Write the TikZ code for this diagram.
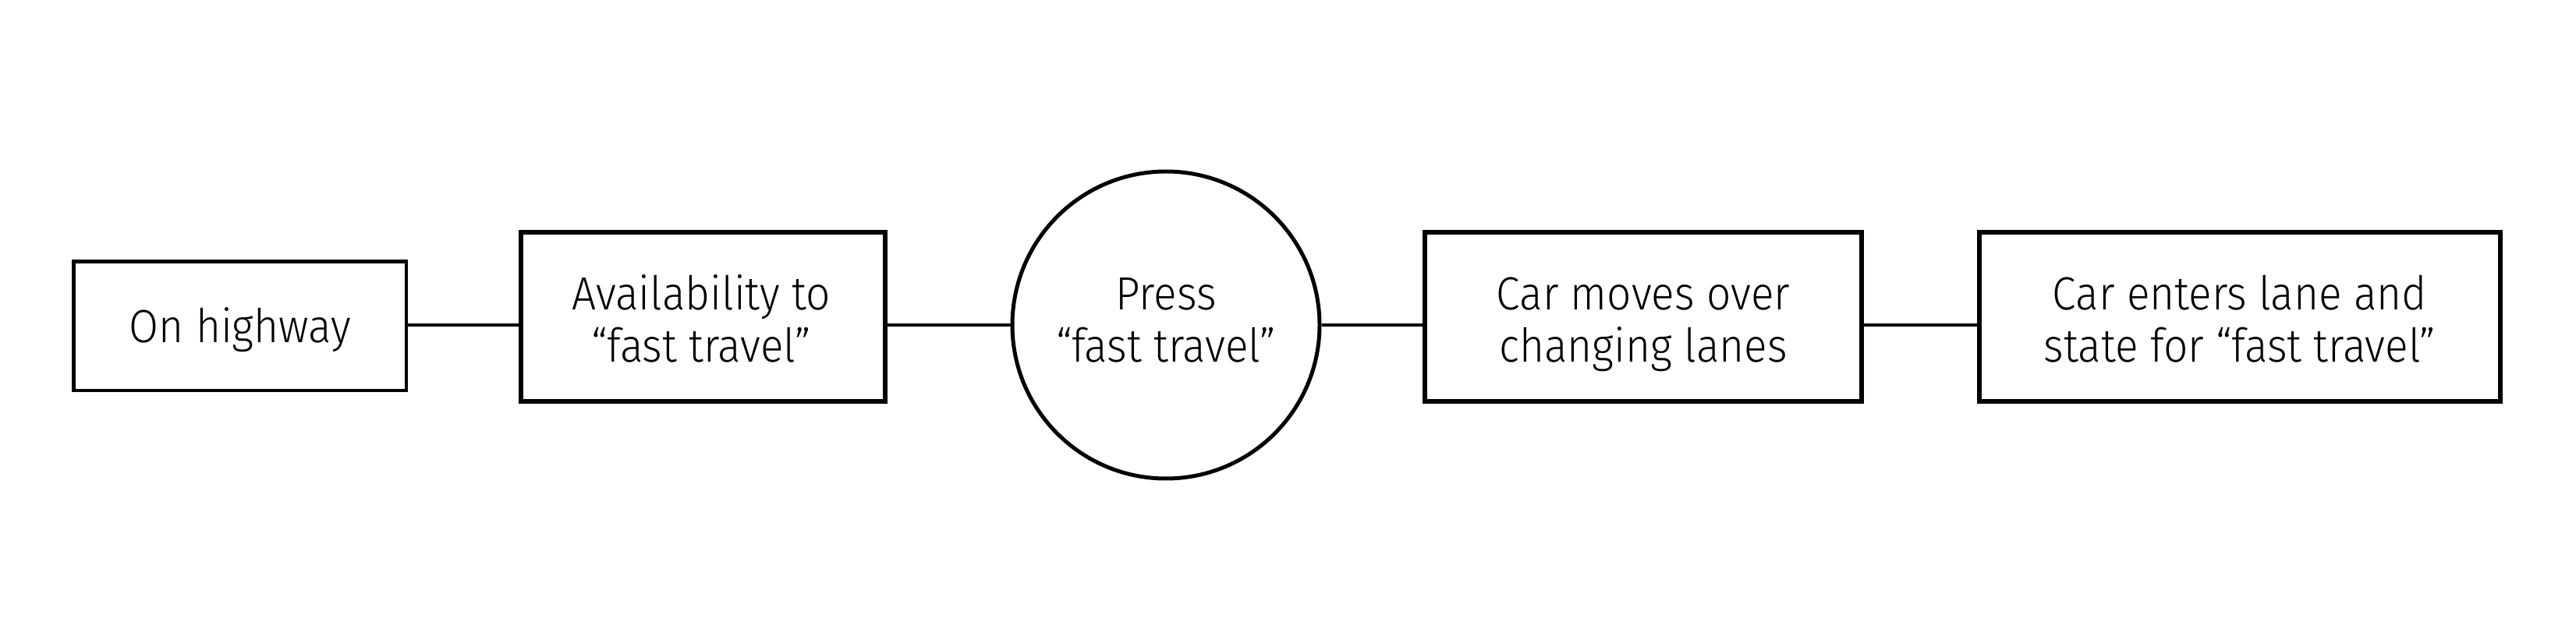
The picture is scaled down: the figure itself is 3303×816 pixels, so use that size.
\documentclass[tikz,border=0pt]{standalone}
\usepackage{fontspec}
\setmainfont{Fira Sans Light}[FakeStretch=0.92]
\begin{document}
\begin{tikzpicture}[x=0.01cm,y=-0.01cm,
  lbl/.style={align=center,font=\fontsize{17pt}{19pt}\selectfont,inner sep=0pt},
  thinbox/.style={draw,line width=1.28pt},
  thickbox/.style={draw,line width=1.7pt},
  conn/.style={line width=1.14pt}]
\useasboundingbox (0,0) rectangle (3303,816);
\draw[thinbox] (94.5,335.5) rectangle (521,501);
\coordinate (b1r) at (521,417);
\node[lbl] (t1) at (307.75,426.6) {\strut On highway};
\draw[thickbox] (668,298) rectangle (1135,515);
\coordinate (b2l) at (668,417);
\coordinate (b2r) at (1135,417);
\node[lbl] (t2) at (899,418) {\strut Availability to\\\strut “fast travel”};
\node[draw,circle,line width=1.42pt,minimum size=394*0.01cm,inner sep=0pt] (c) at (1495,417) {};
\node[lbl] (t3) at (1495,418) {\strut Press\\\strut “fast travel”};
\draw[thickbox] (1827,298) rectangle (2387,515);
\coordinate (b3l) at (1827,417);
\coordinate (b3r) at (2387,417);
\node[lbl] (t4) at (2107,418) {\strut Car moves over\\\strut changing lanes};
\draw[thickbox] (2538,298) rectangle (3206,515);
\coordinate (b4l) at (2538,417);
\node[lbl] (t5) at (2872,418) {\strut Car enters lane and\\\strut state for “fast travel”};
\draw[conn] (b1r) -- (b2l);
\draw[conn] (b2r) -- (c.west);
\draw[conn] (c.east) -- (b3l);
\draw[conn] (b3r) -- (b4l);
\end{tikzpicture}
\end{document}
